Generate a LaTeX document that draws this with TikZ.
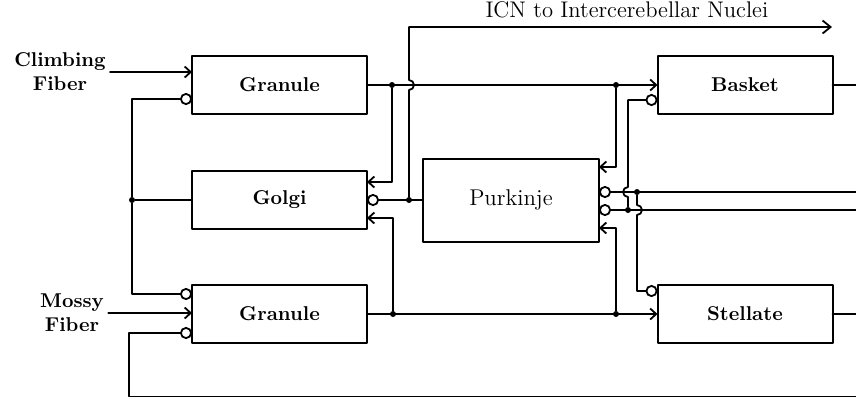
\documentclass[tikz,border=0pt]{standalone}
\usepackage{tikz}
\usetikzlibrary{arrows.meta,calc}
\tikzset{
    every picture/.style={line cap=round,line join=round},
    cellbox/.style={draw=black,line width=1pt,minimum width=87.5pt,
      minimum height=29pt,inner sep=0pt,outer sep=0pt,font=\bfseries},
    fiberlabel/.style={font=\bfseries,align=center,inner sep=2pt},
    wire/.style={draw=black,line width=0.9pt},
    excite/.style={wire,-{Straight Barb[length=3pt,width=5.5pt]}},
    inhibit/.style={wire,-{Circle[open,length=6pt,width=6pt]}},
    junction/.style={circle,fill=black,inner sep=0pt,minimum size=3pt}
}
\begin{document}
\begin{tikzpicture}[x=0.5pt,y=-0.5pt]
  \useasboundingbox (0,0) rectangle (856,398);
  % cells
  \node[cellbox] (granA) at (279.5,85) {Granule};
  \node[cellbox] (golgi) at (279.5,200) {Golgi};
  \node[cellbox] (granB) at (279.5,314) {Granule};
  \node[cellbox,minimum width=88pt,minimum height=41.5pt,
    font=\fontsize{11.4}{13}\selectfont] (purk) at (511,200) {Purkinje};
  \node[cellbox] (basket) at (745,85) {Basket};
  \node[cellbox] (stell) at (745,314) {Stellate};
  \node[fiberlabel] (climb) at (60,72) {Climbing\\Fiber};
  \node[fiberlabel] (mossy) at (72,313) {Mossy\\Fiber};
  % branch points
  \node[junction] (jA1) at (392,85) {};
  \node[junction] (jA2) at (616,85) {};
  \node[junction] (jB1) at (393,314) {};
  \node[junction] (jB2) at (616,314) {};
  \node[junction] (jP) at (409,200) {};
  \node[junction] (jG) at (132,200) {};
  \node[junction] (jR1) at (637,192) {};
  \node[junction] (jR2) at (628,210) {};
  % free ends at the edges
  \coordinate (icnEnd) at (832,27);
  \coordinate (outBasket) at (856,85);
  \coordinate (outStell) at (856,314);
  \coordinate (inTop) at (856,192);
  \coordinate (inBot) at (856,210);
  \coordinate (fbR) at (856,396.5);
  \coordinate (fbL) at (129,396.5);
  % fibers in
  \draw[excite] (climb.east) -- (climb.east -| granA.west);
  \draw[excite] (mossy.east) -- (mossy.east -| granB.west);
  % granule outputs
  \draw[excite] (granA.east) -- (basket.west);
  \draw[excite] (granB.east) -- (stell.west);
  \draw[excite] (jA1) |- ($(golgi.east)+(0,-18)$);
  \draw[excite] (jB1) |- ($(golgi.east)+(0,18)$);
  \draw[excite] (jA2) |- ($(purk.east)+(0,-33)$);
  \draw[excite] (jB2) |- ($(purk.east)+(0,28)$);
  % golgi loop
  \draw[wire] (golgi.west) -- (jG);
  \draw[inhibit] (jG) |- ($(granA.west)+(0,14)$);
  \draw[inhibit] (jG) |- ($(granB.west)+(0,-20)$);
  \draw[inhibit] (fbR) -- (fbL) |- ($(granB.west)+(0,19)$);
  % purkinje out
  \draw[inhibit] (purk.west) -- (golgi.east);
  \draw[wire,-{Straight Barb[length=4pt,width=6.5pt]}] (jP) -- ($(jP |- granA.east)+(0,5)$)
    arc[start angle=-90,end angle=90,radius=2.5pt] -- (jP |- icnEnd) -- (icnEnd)
    node[pos=0.515,above=0.5pt,font=\fontsize{11.3}{13}\selectfont] (icn) {ICN to Intercerebellar Nuclei};
  % basket / stellate
  \draw[wire] (basket.east) -- (outBasket);
  \draw[wire] (stell.east) -- (outStell);
  \draw[inhibit] (inTop) -- ($(purk.east)+(0,-8)$);
  \draw[inhibit] (inBot) -- ($(purk.east)+(0,10)$);
  \draw[inhibit] (jR2) -- ($(jR2 |- jR1)+(0,5)$)
    arc[start angle=-90,end angle=-270,radius=2.5pt] |- ($(basket.west)+(0,15)$);
  \draw[inhibit] (jR1) -- ($(jR1 |- jR2)+(0,-5)$)
    arc[start angle=90,end angle=-90,radius=2.5pt] |- ($(stell.west)+(0,-23)$);
\end{tikzpicture}
\end{document}
